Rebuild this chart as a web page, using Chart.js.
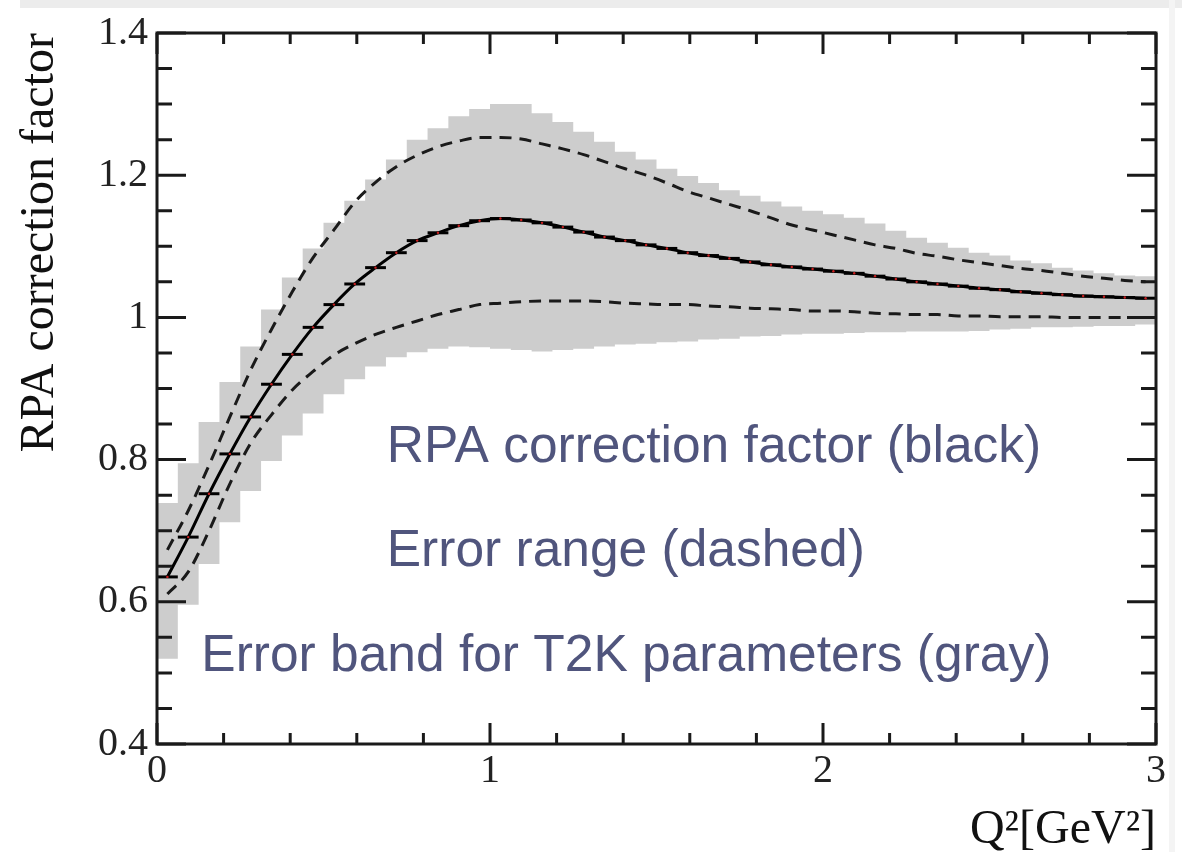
<!DOCTYPE html>
<html>
<head>
<meta charset="utf-8">
<title>RPA correction factor</title>
<style>
  html, body { margin: 0; padding: 0; background: #fff; }
  #box { position: relative; width: 1182px; height: 852px; overflow: hidden; }
  #edgeTop { position: absolute; left: 20px; top: 0; width: 1162px; height: 8px; background: #ececec; }
  #edgeRight { position: absolute; left: 1169px; top: 0; width: 6px; height: 852px; background: #f4f4f4; }
  canvas { position: absolute; left: 0; top: 0; }
</style>
<script src="https://cdn.jsdelivr.net/npm/chart.js@4"></script>
</head>
<body>
<div id="box">
  <div id="edgeTop"></div>
  <div id="edgeRight"></div>
  <canvas id="rpaChart" width="1182" height="852"></canvas>
</div>
<script>
// Q^2 binning: 48 bins of 0.0625 GeV^2 between 0 and 3
const binWidth = 0.0625;

// gray band (T2K parameter spread), lower and upper edge per bin
const bandLow = [
  0.520, 0.596, 0.653, 0.712, 0.756, 0.798, 0.834, 0.865, 0.892, 0.913,
  0.931, 0.944, 0.951, 0.956, 0.959, 0.958, 0.956, 0.954, 0.952, 0.954,
  0.956, 0.959, 0.962, 0.963, 0.965, 0.966, 0.969, 0.970, 0.973, 0.974,
  0.976, 0.977, 0.977, 0.978, 0.979, 0.979, 0.980, 0.980, 0.980, 0.981,
  0.983, 0.984, 0.986, 0.986, 0.987, 0.988, 0.988, 0.990
];
const bandHigh = [
  0.739, 0.795, 0.853, 0.909, 0.959, 1.011, 1.056, 1.097, 1.133, 1.164,
  1.194, 1.222, 1.250, 1.266, 1.283, 1.293, 1.300, 1.300, 1.287, 1.275,
  1.261, 1.247, 1.233, 1.222, 1.209, 1.199, 1.189, 1.179, 1.171, 1.163,
  1.156, 1.150, 1.145, 1.140, 1.132, 1.122, 1.112, 1.105, 1.098, 1.091,
  1.087, 1.080, 1.076, 1.070, 1.066, 1.062, 1.059, 1.058
];

// RPA correction factor (black) at the bin centres
const rpaCentral = [
  0.635, 0.691, 0.752, 0.808, 0.860, 0.906, 0.948, 0.986, 1.018, 1.047,
  1.070, 1.091, 1.108, 1.119, 1.129, 1.136, 1.139, 1.137, 1.133, 1.127,
  1.120, 1.113, 1.108, 1.102, 1.097, 1.091, 1.087, 1.083, 1.078, 1.074,
  1.071, 1.068, 1.065, 1.062, 1.058, 1.054, 1.050, 1.047, 1.044, 1.041,
  1.039, 1.036, 1.034, 1.032, 1.030, 1.029, 1.028, 1.027
];

// error range (dashed), upper and lower curve at the bin centres
const errUpper = [
  0.673, 0.728, 0.792, 0.860, 0.926, 0.983, 1.036, 1.084, 1.123, 1.162,
  1.190, 1.212, 1.228, 1.240, 1.248, 1.253, 1.253, 1.251, 1.244, 1.237,
  1.229, 1.219, 1.209, 1.200, 1.189, 1.177, 1.168, 1.159, 1.150, 1.140,
  1.130, 1.123, 1.116, 1.109, 1.102, 1.097, 1.090, 1.086, 1.081, 1.077,
  1.073, 1.069, 1.066, 1.062, 1.058, 1.055, 1.052, 1.050
];
const errLower = [
  0.611, 0.642, 0.700, 0.766, 0.823, 0.863, 0.898, 0.924, 0.947, 0.963,
  0.976, 0.986, 0.995, 1.004, 1.011, 1.018, 1.020, 1.022, 1.023, 1.023,
  1.023, 1.022, 1.020, 1.019, 1.018, 1.018, 1.016, 1.015, 1.013, 1.012,
  1.011, 1.009, 1.009, 1.008, 1.006, 1.005, 1.004, 1.004, 1.002, 1.002,
  1.001, 1.001, 1.001, 1.000, 1.000, 1.000, 1.000, 1.000
];

// texts written inside the frame
const noteTexts = [
  "RPA correction factor (black)",
  "Error range (dashed)",
  "Error band for T2K parameters (gray)"
];

// step edges: value of bin i holds from its left edge, last value repeated at the right edge
function toEdges(values) {
  const pts = values.map((v, i) => ({ x: i * binWidth, y: v }));
  pts.push({ x: values.length * binWidth, y: values[values.length - 1] });
  return pts;
}
function toCentres(values) {
  return values.map((v, i) => ({ x: (i + 0.5) * binWidth, y: v }));
}

// frame with inward ticks on all four sides (ROOT style)
const frameTicks = {
  id: "frameTicks",
  afterDatasetsDraw(chart, args, opts) {
    const { ctx, chartArea: a, scales: { x, y } } = chart;
    const isMajor = (v, step) => Math.abs(v / step - Math.round(v / step)) < 1e-6;
    ctx.save();
    ctx.strokeStyle = opts.color;
    ctx.lineWidth = opts.width;
    ctx.beginPath();
    for (let v = x.min; v <= x.max + 1e-9; v += opts.xMinor) {
      const len = isMajor(v, opts.xMajor) ? opts.xMajorLen : opts.xMinorLen;
      const px = x.getPixelForValue(v);
      ctx.moveTo(px, a.bottom);
      ctx.lineTo(px, a.bottom - len);
      ctx.moveTo(px, a.top);
      ctx.lineTo(px, a.top + len);
    }
    for (let v = y.min; v <= y.max + 1e-9; v += opts.yMinor) {
      const len = isMajor(v, opts.yMajor) ? opts.yMajorLen : opts.yMinorLen;
      const py = y.getPixelForValue(v);
      ctx.moveTo(a.left, py);
      ctx.lineTo(a.left + len, py);
      ctx.moveTo(a.right, py);
      ctx.lineTo(a.right - len, py);
    }
    ctx.stroke();
    ctx.strokeRect(a.left, a.top, a.right - a.left, a.bottom - a.top);
    ctx.restore();
  }
};

// free text lines, anchored in axis units
const notes = {
  id: "notes",
  afterDatasetsDraw(chart, args, opts) {
    const { ctx, scales: { x, y } } = chart;
    ctx.save();
    ctx.font = opts.font;
    ctx.fillStyle = opts.color;
    ctx.textBaseline = "alphabetic";
    ctx.textAlign = "left";
    noteTexts.forEach((text, i) => {
      const at = opts.anchors[i];
      ctx.fillText(text, x.getPixelForValue(at[0]), y.getPixelForValue(at[1]));
    });
    ctx.restore();
  }
};

const serif = "'Liberation Serif', 'Times New Roman', serif";
const ink = "#1a1a1a";
const shortNumber = (v) => String(+(+v).toFixed(1));

const ctx = document.getElementById("rpaChart").getContext("2d");
new Chart(ctx, {
  type: "line",
  data: {
    datasets: [
      {
        label: "band low",
        data: toEdges(bandLow),
        stepped: true,
        borderWidth: 0,
        borderColor: "rgba(0,0,0,0)",
        pointRadius: 0,
        fill: false,
        order: 10
      },
      {
        label: "band high",
        data: toEdges(bandHigh),
        stepped: true,
        borderWidth: 0,
        borderColor: "rgba(0,0,0,0)",
        backgroundColor: "rgb(205,205,205)",
        pointRadius: 0,
        fill: { target: 0 },
        order: 9
      },
      {
        label: "error low",
        data: toCentres(errLower),
        borderColor: ink,
        borderWidth: 3,
        borderDash: [12, 8],
        cubicInterpolationMode: "monotone",
        pointRadius: 0,
        fill: false,
        order: 5
      },
      {
        label: "error high",
        data: toCentres(errUpper),
        borderColor: ink,
        borderWidth: 3,
        borderDash: [12, 8],
        cubicInterpolationMode: "monotone",
        pointRadius: 0,
        fill: false,
        order: 4
      },
      {
        label: "RPA",
        data: toCentres(rpaCentral),
        borderColor: "#000",
        borderWidth: 3,
        cubicInterpolationMode: "monotone",
        pointRadius: 0,
        fill: false,
        order: 3
      },
      {
        label: "RPA bins",
        data: toCentres(rpaCentral),
        showLine: false,
        pointStyle: "line",
        // each bar spans the full bin width
        pointRadius: (c) => {
          const s = c.chart.scales.x;
          return (s.getPixelForValue(binWidth) - s.getPixelForValue(0)) / 2;
        },
        pointBorderColor: "#000",
        pointBorderWidth: 3,
        order: 2
      },
      {
        label: "RPA bin centres",
        data: toCentres(rpaCentral),
        showLine: false,
        pointStyle: "circle",
        pointRadius: 1.2,
        pointBorderWidth: 0,
        pointBackgroundColor: "rgb(200,30,30)",
        order: 1
      }
    ]
  },
  options: {
    responsive: false,
    animation: false,
    events: [],
    layout: { padding: { left: 0, right: 26, top: 25, bottom: 0 } },
    plugins: {
      legend: { display: false },
      tooltip: { enabled: false },
      frameTicks: {
        color: ink, width: 3,
        xMinor: 0.2, xMajor: 1, xMinorLen: 11, xMajorLen: 21,
        yMinor: 0.05, yMajor: 0.2, yMinorLen: 15, yMajorLen: 29
      },
      notes: {
        font: "51.5px 'Liberation Sans', Arial, sans-serif",
        color: "#50557d",
        anchors: [[0.69, 0.797], [0.69, 0.651], [0.133, 0.502]]
      }
    },
    scales: {
      x: {
        type: "linear",
        min: 0,
        max: 3,
        grid: { display: false, drawTicks: false },
        border: { display: false },
        ticks: { stepSize: 1, padding: 3, color: "#222", maxRotation: 0, callback: shortNumber, font: { family: serif, size: 40 } },
        title: { display: true, text: "Q²[GeV²]", align: "end", color: "#111", padding: { top: 0, bottom: 0 }, font: { family: serif, size: 48, lineHeight: 0.9 } },
        afterFit(scale) { scale.height = 108; }
      },
      y: {
        type: "linear",
        min: 0.4,
        max: 1.4,
        grid: { display: false, drawTicks: false },
        border: { display: false },
        ticks: { stepSize: 0.2, padding: 9, color: "#222", callback: shortNumber, font: { family: serif, size: 40 } },
        title: { display: true, text: "RPA correction factor", align: "end", color: "#111", padding: { top: 12, bottom: 0 }, font: { family: serif, size: 48 } },
        afterFit(scale) { scale.width = 157; }
      }
    }
  },
  plugins: [frameTicks, notes]
});
</script>
</body>
</html>
